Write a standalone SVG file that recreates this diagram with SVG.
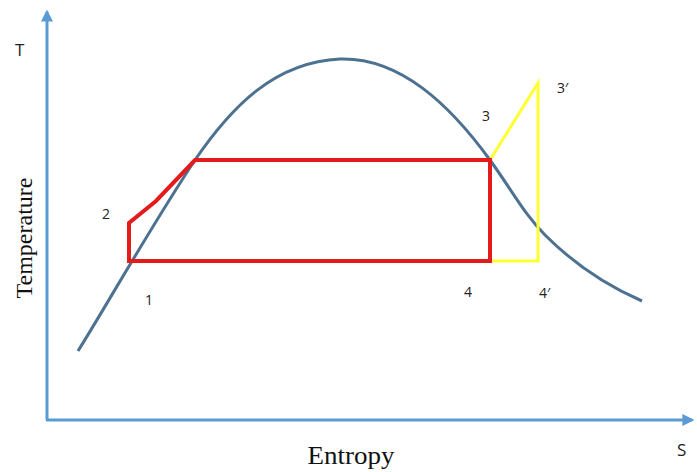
<svg xmlns="http://www.w3.org/2000/svg" width="697" height="472" viewBox="0 0 697 472">
<style>
.lbl{font-family:"Open Sans","Liberation Sans",sans-serif;font-size:14px;fill:#222}
.big{font-size:17px}
.ser{font-family:"Liberation Serif",serif;fill:#111}
</style>
<defs>
<marker id="ah" viewBox="0 0 10 10" refX="8" refY="5" markerWidth="4" markerHeight="4" orient="auto">
<path d="M0,0 L10,5 L0,10 z" fill="#5b9bd5"/>
</marker>
</defs>
<rect width="697" height="472" fill="#fff"/>
<g id="axes" fill="none" stroke="#5b9bd5" stroke-width="3">
<line x1="47" y1="420" x2="47" y2="12" marker-end="url(#ah)"/>
<line x1="46" y1="420" x2="692" y2="420" marker-end="url(#ah)"/>
</g>
<g id="connectors" fill="none" stroke-linejoin="miter">
<path id="saturation-curve" d="M78,351 C105,308 150,228 195,160 C232,106 275,62 340,59 C400,57 450,105 490,160 C515,195 525,215 545,235 C575,265 605,285 642,301" stroke="#4d7190" stroke-width="3"/>
<polyline id="yellow-cycle" points="490,160 538,83 538,261 490,261" stroke="#ffff33" stroke-width="3"/>
<polygon id="red-cycle" points="129,261 129,223 156,201 195,160 490,160 490,261" stroke="#e31b1b" stroke-width="4"/>
</g>
<g id="labels">
<text class="lbl big" x="15" y="56">T</text>
<text class="lbl" x="102" y="219">2</text>
<text class="lbl" x="145" y="305">1</text>
<text class="lbl" x="482" y="121">3</text>
<text class="lbl" x="557" y="93">3′</text>
<text class="lbl" x="464" y="297">4</text>
<text class="lbl" x="539" y="298">4′</text>
<text class="lbl big" x="677" y="456">S</text>
<text class="ser" x="351" y="464" text-anchor="middle" font-size="25" textLength="87" lengthAdjust="spacingAndGlyphs">Entropy</text>
<text class="ser" x="32" y="238" text-anchor="middle" font-size="24" transform="rotate(-90 32 238)">Temperature</text>
</g>
</svg>
